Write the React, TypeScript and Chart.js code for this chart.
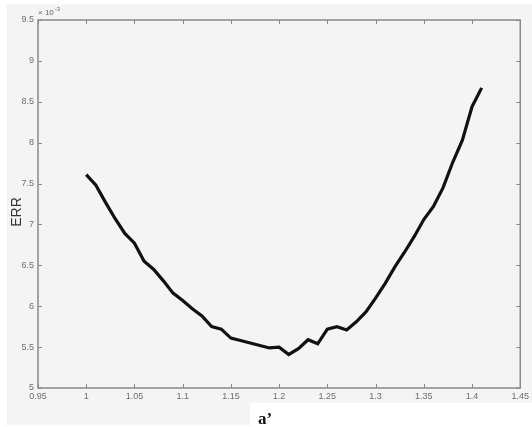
import React, { useEffect, useRef } from "react";
import { Chart, registerables } from "chart.js";

Chart.register(...registerables);

// a' values (x) and ERR values (in units of 1e-3)
const aValues = [
  1.0, 1.01, 1.02, 1.03, 1.04, 1.05, 1.06, 1.07, 1.08, 1.09, 1.1,
  1.11, 1.12, 1.13, 1.14, 1.15, 1.16, 1.17, 1.18, 1.19, 1.2,
  1.21, 1.22, 1.23, 1.24, 1.25, 1.26, 1.27, 1.28, 1.29, 1.3,
  1.31, 1.32, 1.33, 1.34, 1.35, 1.36, 1.37, 1.38, 1.39, 1.4, 1.41,
];
const errValues = [
  7.61, 7.48, 7.27, 7.07, 6.89, 6.77, 6.55, 6.45, 6.31, 6.16, 6.07,
  5.97, 5.88, 5.75, 5.72, 5.61, 5.58, 5.55, 5.52, 5.49, 5.5,
  5.41, 5.48, 5.59, 5.54, 5.72, 5.75, 5.71, 5.81, 5.93, 6.1,
  6.28, 6.48, 6.66, 6.85, 7.06, 7.22, 7.45, 7.76, 8.03, 8.44, 8.67,
];
const xTicks = [0.95, 1.0, 1.05, 1.1, 1.15, 1.2, 1.25, 1.3, 1.35, 1.4, 1.45];
const yTicks = [5, 5.5, 6, 6.5, 7, 7.5, 8, 8.5, 9, 9.5];
const xTitle = "a\u2019";
const yTitle = "ERR";
const yExponent = "\u00d7 10";
const yExponentPow = "-3";

const fmt = (v: number) => String(Number(v.toFixed(2)));

const framePlugin = {
  id: "matlabFrame",
  beforeDraw(chart: any) {
    const ctx = chart.ctx;
    ctx.save();
    ctx.fillStyle = "#ffffff";
    ctx.fillRect(0, 0, chart.width, chart.height);
    ctx.fillStyle = "#f4f4f4";
    ctx.fillRect(7, 4, chart.width - 7, 421);
    ctx.fillStyle = "#ffffff";
    ctx.fillRect(250, 403, chart.width - 250, 24);
    ctx.restore();
  },
  afterDraw(chart: any) {
    const ctx = chart.ctx;
    const { left, right, top, bottom } = chart.chartArea;
    const xs = chart.scales.x;
    const ys = chart.scales.y;
    ctx.save();
    ctx.strokeStyle = "#8a8a8a";
    ctx.lineWidth = 1.5;
    ctx.strokeRect(left, top, right - left, bottom - top);
    ctx.lineWidth = 1;
    const tl = 4;
    ctx.beginPath();
    xTicks.forEach((v) => {
      const px = Math.round(xs.getPixelForValue(v)) + 0.5;
      ctx.moveTo(px, bottom);
      ctx.lineTo(px, bottom - tl);
      ctx.moveTo(px, top);
      ctx.lineTo(px, top + tl);
    });
    yTicks.forEach((v) => {
      const py = Math.round(ys.getPixelForValue(v)) + 0.5;
      ctx.moveTo(left, py);
      ctx.lineTo(left + tl, py);
      ctx.moveTo(right, py);
      ctx.lineTo(right - tl, py);
    });
    ctx.stroke();

    // exponent label
    ctx.fillStyle = "#666";
    ctx.font = "8px 'Liberation Sans', Arial, sans-serif";
    ctx.textBaseline = "alphabetic";
    ctx.textAlign = "left";
    ctx.fillText(yExponent, left, top - 5);
    const w = ctx.measureText(yExponent).width;
    ctx.font = "6px 'Liberation Sans', Arial, sans-serif";
    ctx.fillText(yExponentPow, left + w + 1, top - 9);

    // y title
    ctx.fillStyle = "#333";
    ctx.font = "14px 'Liberation Sans', Arial, sans-serif";
    ctx.textAlign = "center";
    ctx.textBaseline = "middle";
    ctx.translate(17, 212);
    ctx.rotate(-Math.PI / 2);
    ctx.fillText(yTitle, 0, 0);
    ctx.restore();

    // x title
    ctx.save();
    ctx.fillStyle = "#111";
    ctx.font = "bold 17px 'Liberation Serif', 'Times New Roman', serif";
    ctx.textAlign = "left";
    ctx.textBaseline = "alphabetic";
    ctx.fillText(xTitle, 258, 424);
    ctx.restore();
  },
};

export default function App() {
  const ref = useRef<HTMLCanvasElement>(null);
  useEffect(() => {
    if (!ref.current) return;
    const chart = new Chart(ref.current, {
      type: "line",
      data: {
        datasets: [
          {
            data: aValues.map((a, i) => ({ x: a, y: errValues[i] })),
            borderColor: "#111111",
            borderWidth: 3.2,
            pointRadius: 0,
            tension: 0,
            fill: false,
          },
        ],
      },
      options: {
        animation: false,
        responsive: false,
        maintainAspectRatio: false,
        layout: { padding: { top: 20, right: 6, left: 0, bottom: 0 } },
        plugins: { legend: { display: false }, tooltip: { enabled: false } },
        scales: {
          x: {
            type: "linear",
            min: 0.95,
            max: 1.45,
            afterBuildTicks: (s: any) => {
              s.ticks = xTicks.map((v) => ({ value: v }));
            },
            afterFit: (s: any) => {
              s.height = 39;
            },
            grid: { display: false, drawTicks: false },
            border: { display: false },
            ticks: {
              padding: 3,
              maxRotation: 0,
              autoSkip: false,
              color: "#6e6e6e",
              font: { family: "'Liberation Sans', Arial, sans-serif", size: 9 },
              callback: (v: any) => fmt(Number(v)),
            },
          },
          y: {
            type: "linear",
            min: 5,
            max: 9.5,
            afterBuildTicks: (s: any) => {
              s.ticks = yTicks.map((v) => ({ value: v }));
            },
            afterFit: (s: any) => {
              s.width = 38;
            },
            grid: { display: false, drawTicks: false },
            border: { display: false },
            ticks: {
              padding: 4,
              autoSkip: false,
              color: "#6e6e6e",
              font: { family: "'Liberation Sans', Arial, sans-serif", size: 9 },
              callback: (v: any) => fmt(Number(v)),
            },
          },
        },
      },
      plugins: [framePlugin],
    });
    return () => chart.destroy();
  }, []);
  return (
    <div style={{ position: "fixed", left: 0, top: 0, width: 532, height: 427 }}>
      <canvas ref={ref} width={532} height={427} style={{ width: 532, height: 427 }} />
    </div>
  );
}
